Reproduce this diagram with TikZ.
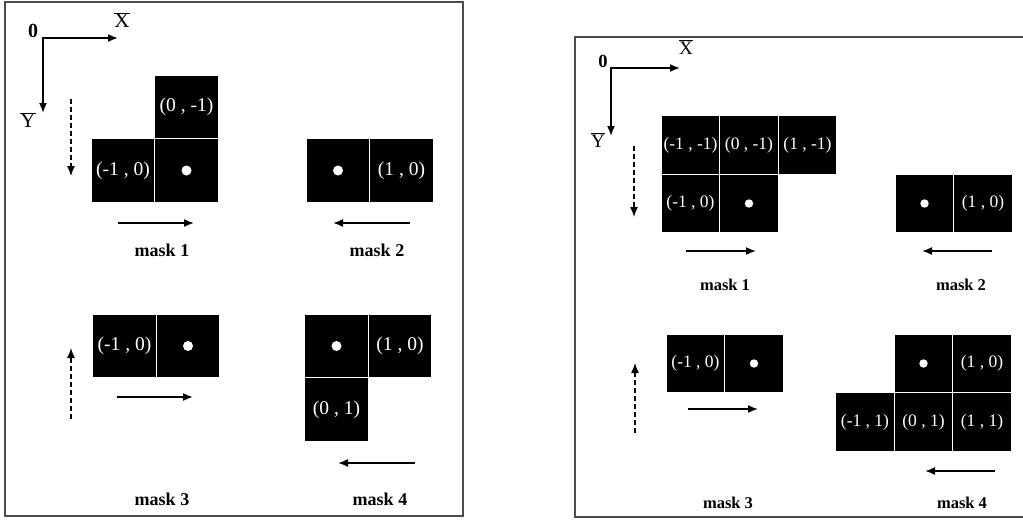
\documentclass[tikz,border=0pt]{standalone}
\usepackage{fontspec}
\setmainfont{Liberation Serif}
\usetikzlibrary{positioning,arrows.meta}

\tikzset{
cell/.style={fill=black, text=white, minimum size=62.5pt, inner sep=0pt, outer sep=0pt, font=\fontsize{19.5}{22}\selectfont},
smallcell/.style={cell, minimum size=57.5pt, font=\fontsize{17.5}{20}\selectfont},
scan/.style={line width=1.6pt, -{Latex[length=10pt,width=8pt]}},
rowscan/.style={line width=1.3pt, dash pattern=on 5pt off 3pt, -{Latex[length=10pt,width=8pt]}},
axis/.style={line width=1.6pt, {Latex[length=10pt,width=8pt]}-{Latex[length=10pt,width=8pt]}},
frame/.style={draw=black!70, line width=1.2pt},
masklabel/.style={font=\fontsize{18}{21}\selectfont\bfseries},
axislabel/.style={font=\fontsize{21}{24}\selectfont}
}

\newcommand{\drawscan}[4]{
\draw[scan] (#1, #2) -- (#3, #4);
}
\newcommand{\drawrow}[4]{
\draw[rowscan] (#1, #2) -- (#3, #4);
}
\newcommand{\drawdot}[2]{
\fill[white] (#1) circle (#2);
}
\newcommand{\barred}[1]{$\overline{\mbox{#1}}$}

\begin{document}
\begin{tikzpicture}[x=1pt, y=-1pt, node distance=1pt]
\useasboundingbox (0, 0) rectangle (1023, 520);

\draw[frame] (5, 2) rectangle (463, 516);
\draw[frame] (1023, 37) -- (575, 37) -- (575, 517) -- (1023, 517);

\coordinate (o1) at (43, 38);
\coordinate (x1) at (118, 38);
\coordinate (y1) at (43, 113);
\draw[axis] (x1) -- (o1) -- (y1);
\node[axislabel, font=\fontsize{20}{22}\selectfont\bfseries] (zero1) at (33, 31) {0};
\node[axislabel] (xbar1) at (122, 20) {\barred{X}};
\node[axislabel] (ybar1) at (28, 120) {\barred{Y}};

\node[cell] (m1o) at (186.5, 170.5) {};
\node[cell, left=of m1o] (m1l) {(-1 , 0)};
\node[cell, above=of m1o] (m1u) {(0 , -1)};
\drawdot{m1o}{5pt}

\node[cell] (m2o) at (338, 170.5) {};
\node[cell, right=of m2o] (m2r) {(1 , 0)};
\drawdot{m2o}{5pt}

\node[cell] (m3o) at (188, 346) {};
\node[cell, left=of m3o] (m3l) {(-1 , 0)};
\drawdot{m3o}{5pt}

\node[cell] (m4o) at (336.5, 346) {};
\node[cell, right=of m4o] (m4r) {(1 , 0)};
\node[cell, below=of m4o] (m4d) {(0 , 1)};
\drawdot{m4o}{5pt}

\drawrow{71}{99}{71}{176}
\drawrow{71}{419}{71}{348}
\drawscan{118}{223}{194}{223}
\drawscan{410}{223}{333}{223}
\drawscan{117}{397}{193}{397}
\drawscan{415}{463}{338}{463}

\node[masklabel] (t1) at (162, 250) {mask 1};
\node[masklabel] (t2) at (377, 250) {mask 2};
\node[masklabel] (t3) at (162, 499) {mask 3};
\node[masklabel] (t4) at (380, 499) {mask 4};

\coordinate (o2) at (611, 68);
\coordinate (x2) at (680, 68);
\coordinate (y2) at (611, 136);
\draw[axis] (x2) -- (o2) -- (y2);
\node[axislabel, font=\fontsize{18.5}{21}\selectfont\bfseries] (zero2) at (603, 61) {0};
\node[axislabel, font=\fontsize{19}{22}\selectfont] (xbar2) at (686, 47) {\barred{X}};
\node[axislabel, font=\fontsize{19}{22}\selectfont] (ybar2) at (598, 140) {\barred{Y}};

\node[smallcell] (n1o) at (749, 203.5) {};
\node[smallcell, left=of n1o] (n1l) {(-1 , 0)};
\node[smallcell, above=of n1o] (n1u) {(0 , -1)};
\node[smallcell, above=of n1l] (n1ul) {(-1 , -1)};
\node[smallcell, right=of n1u] (n1ur) {(1 , -1)};
\drawdot{n1o}{4.2pt}

\node[smallcell] (n2o) at (924.5, 203.5) {};
\node[smallcell, right=of n2o] (n2r) {(1 , 0)};
\drawdot{n2o}{4.2pt}

\node[smallcell] (n3o) at (754, 363.5) {};
\node[smallcell, left=of n3o] (n3l) {(-1 , 0)};
\drawdot{n3o}{4.2pt}

\node[smallcell] (n4o) at (923.5, 363.5) {};
\node[smallcell, right=of n4o] (n4r) {(1 , 0)};
\node[smallcell, below=of n4o] (n4d) {(0 , 1)};
\node[smallcell, left=of n4d] (n4dl) {(-1 , 1)};
\node[smallcell, right=of n4d] (n4dr) {(1 , 1)};
\drawdot{n4o}{4.2pt}

\drawrow{634}{146}{634}{217}
\drawrow{635}{433}{635}{363}
\drawscan{686}{251}{756}{251}
\drawscan{992}{251}{922}{251}
\drawscan{688}{409}{758}{409}
\drawscan{995}{471}{925}{471}

\node[masklabel, font=\fontsize{16.5}{19}\selectfont\bfseries] (u1) at (725, 285) {mask 1};
\node[masklabel, font=\fontsize{16.5}{19}\selectfont\bfseries] (u2) at (961, 285) {mask 2};
\node[masklabel, font=\fontsize{16.5}{19}\selectfont\bfseries] (u3) at (728, 503) {mask 3};
\node[masklabel, font=\fontsize{16.5}{19}\selectfont\bfseries] (u4) at (962, 503) {mask 4};

\end{tikzpicture}
\end{document}
